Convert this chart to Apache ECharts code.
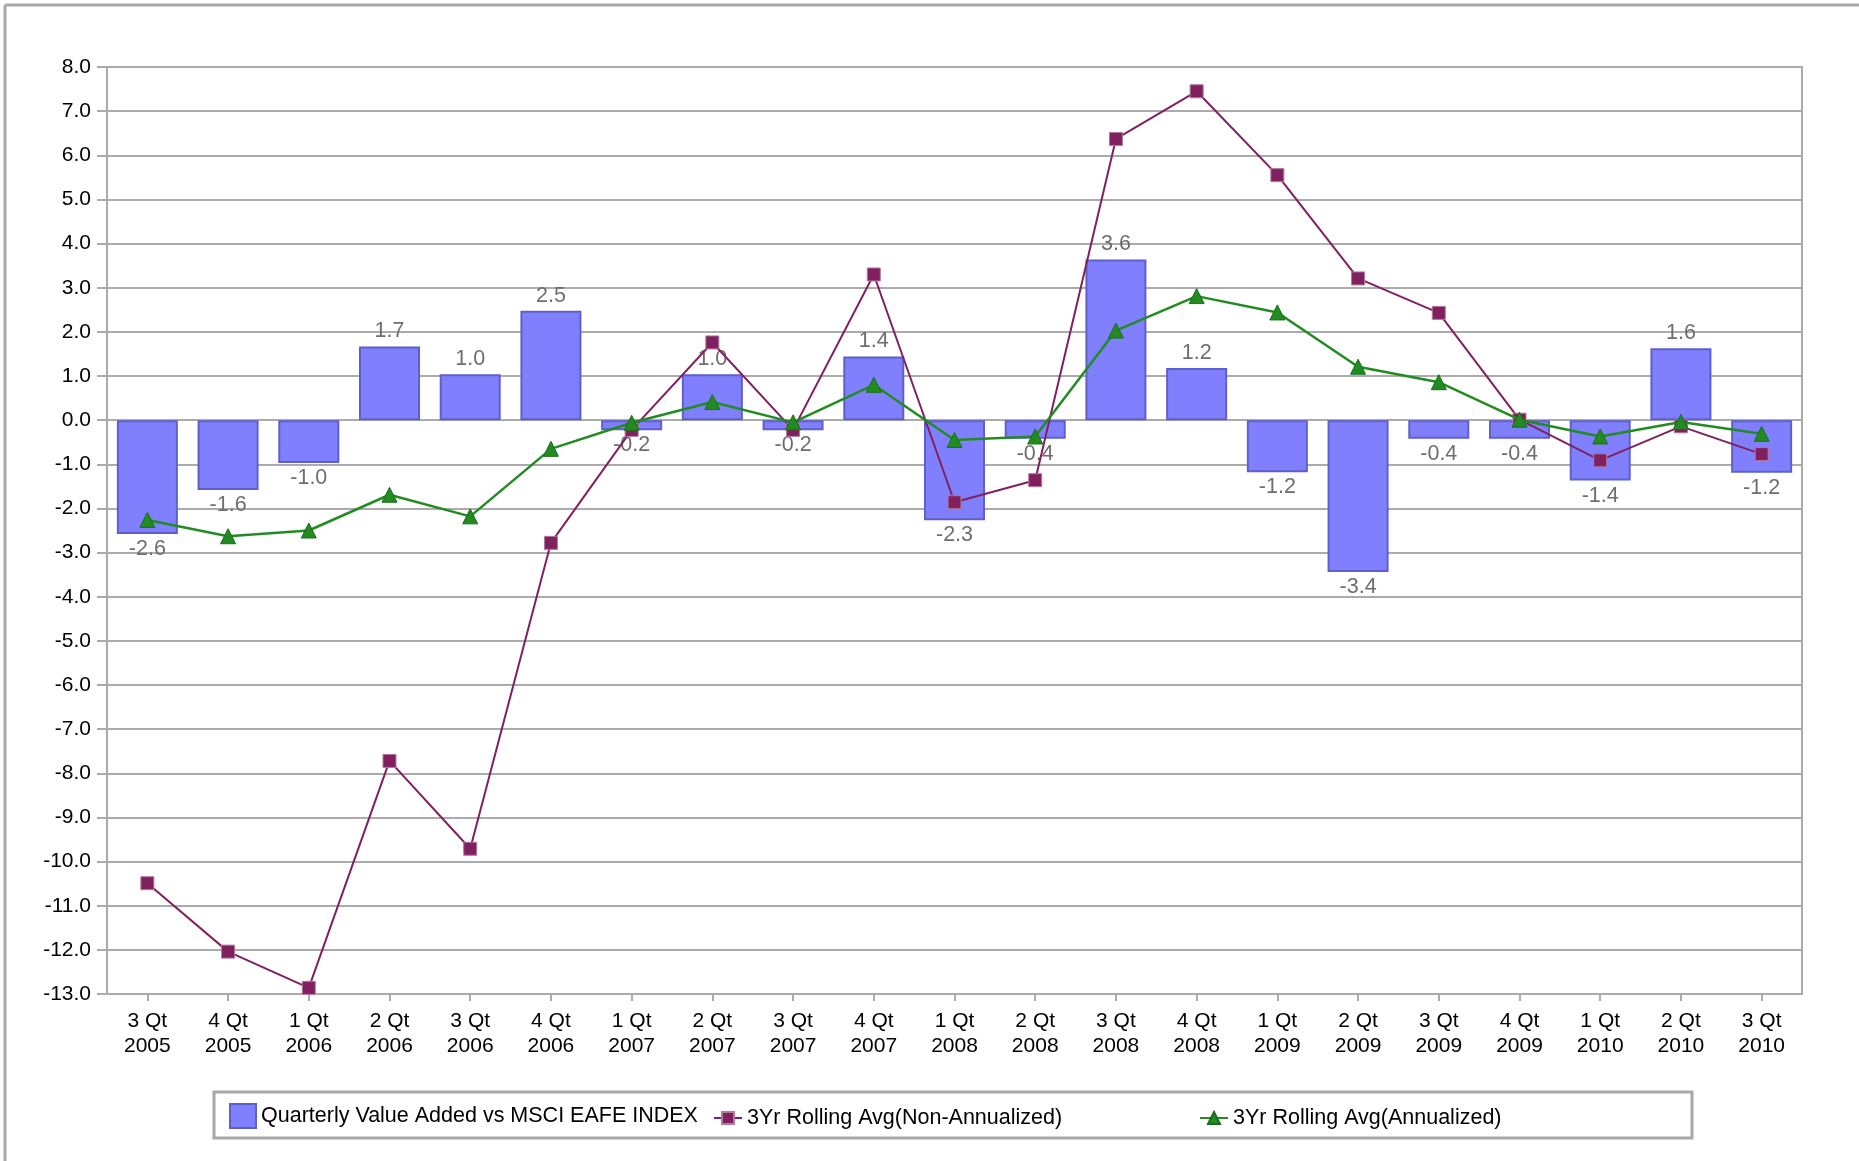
<!DOCTYPE html>
<html>
<head>
<meta charset="utf-8">
<title>Quarterly Value Added</title>
<script src="https://cdn.jsdelivr.net/npm/echarts@6/dist/echarts.min.js"></script>
<style>
  html, body { margin: 0; padding: 0; background: #fff; }
  #chart { width: 1859px; height: 1161px; }
</style>
</head>
<body>
<div id="chart"></div>
<script>
// quarters on the x axis
const quarters = [
  '3 Qt\n2005', '4 Qt\n2005', '1 Qt\n2006', '2 Qt\n2006', '3 Qt\n2006', '4 Qt\n2006',
  '1 Qt\n2007', '2 Qt\n2007', '3 Qt\n2007', '4 Qt\n2007', '1 Qt\n2008', '2 Qt\n2008',
  '3 Qt\n2008', '4 Qt\n2008', '1 Qt\n2009', '2 Qt\n2009', '3 Qt\n2009', '4 Qt\n2009',
  '1 Qt\n2010', '2 Qt\n2010', '3 Qt\n2010'
];

// bars: quarterly value added
const valueAdded = [
  -2.58, -1.58, -0.97, 1.67, 1.04, 2.48, -0.23, 1.04, -0.23, 1.44, -2.27,
  -0.42, 3.64, 1.18, -1.18, -3.44, -0.42, -0.42, -1.37, 1.63, -1.19
];

// 3yr rolling avg, non annualized (squares)
const rollingNonAnn = [
  -10.49, -12.04, -12.86, -7.72, -9.71, -2.78, -0.22, 1.76, -0.22, 3.30, -1.86,
  -1.36, 6.37, 7.45, 5.55, 3.21, 2.43, 0.01, -0.91, -0.14, -0.77
];

// 3yr rolling avg, annualized (triangles)
const rollingAnn = [
  -2.26, -2.63, -2.50, -1.69, -2.18, -0.65, -0.06, 0.41, -0.05, 0.80, -0.45,
  -0.37, 2.03, 2.81, 2.44, 1.21, 0.86, 0.01, -0.37, -0.04, -0.31
];

const yMin = -13;
const yMax = 8;

const barName = 'Quarterly Value Added vs MSCI EAFE INDEX';
const nonAnnName = '3Yr Rolling Avg(Non-Annualized)';
const annName = '3Yr Rolling Avg(Annualized)';

const font = '"Liberation Sans", Arial, sans-serif';
const gridGray = '#ababab';

const chart = echarts.init(document.getElementById('chart'));

const legendText = { fontSize: 21.5, color: '#000', fontFamily: font };

const option = {
  animation: false,
  backgroundColor: '#fff',
  textStyle: { fontFamily: font },
  grid: {
    left: 107, right: 57, top: 67, bottom: 167,
    show: true, borderColor: gridGray, borderWidth: 2,
    containLabel: false
  },
  graphic: [
    // outer frame (only left and top show in the picture)
    { type: 'line', shape: { x1: 5, y1: 5, x2: 1859, y2: 5 }, style: { stroke: '#a8a8a8', lineWidth: 3 } },
    { type: 'line', shape: { x1: 5, y1: 5, x2: 5, y2: 1161 }, style: { stroke: '#a8a8a8', lineWidth: 3 } },
    // legend box
    { type: 'rect', shape: { x: 214, y: 1092, width: 1478, height: 46 },
      style: { fill: 'none', stroke: '#a8a8a8', lineWidth: 3 } }
  ],
  legend: [
    {
      data: [{ name: barName, icon: 'rect' }], left: 224, top: 1098,
      itemWidth: 26, itemHeight: 24,
      textStyle: legendText
    },
    {
      data: [nonAnnName], left: 708, top: 1102,
      itemWidth: 28, itemHeight: 15,
      textStyle: legendText
    },
    {
      data: [annName], left: 1194, top: 1102,
      itemWidth: 28, itemHeight: 15,
      textStyle: legendText
    }
  ],
  xAxis: {
    type: 'category',
    data: quarters,
    axisLine: { show: true, onZero: false, lineStyle: { color: gridGray, width: 2 } },
    axisTick: { show: true, alignWithLabel: true, length: 7, lineStyle: { color: gridGray, width: 2 } },
    axisLabel: { color: '#000', fontSize: 21, lineHeight: 25, margin: 15, fontFamily: font, interval: 0 },
    splitLine: { show: false }
  },
  yAxis: {
    type: 'value',
    min: yMin, max: yMax, interval: 1,
    axisLine: { show: true, lineStyle: { color: gridGray, width: 2 } },
    axisTick: { show: true, length: 10, lineStyle: { color: gridGray, width: 2 } },
    axisLabel: {
      color: '#000', fontSize: 21, margin: 16, fontFamily: font,
      formatter: v => v.toFixed(1)
    },
    splitLine: { show: true, lineStyle: { color: gridGray, width: 2 } }
  },
  series: [
    {
      name: barName,
      type: 'bar',
      barWidth: 61,
      data: valueAdded.map(v => ({
        value: v,
        label: { position: v < 0 ? 'bottom' : 'top' }
      })),
      itemStyle: { color: '#8080ff', borderColor: '#5f5fcc', borderWidth: 2 },
      label: {
        show: true, distance: 4,
        color: '#6e6e6e', fontSize: 21.5, fontFamily: font,
        formatter: p => p.value.toFixed(1)
      },
      z: 2
    },
    {
      name: nonAnnName,
      type: 'line',
      data: rollingNonAnn,
      symbol: 'rect', symbolSize: 13,
      lineStyle: { color: '#80205f', width: 2 },
      itemStyle: { color: '#80205f', borderColor: '#b07a9c', borderWidth: 1 },
      z: 3
    },
    {
      name: annName,
      type: 'line',
      data: rollingAnn,
      symbol: 'triangle', symbolSize: 15,
      lineStyle: { color: '#228b22', width: 2.5 },
      itemStyle: { color: '#228b22', borderColor: '#1a6e1a', borderWidth: 1 },
      z: 4
    }
  ]
};

chart.setOption(option);
</script>
</body>
</html>
